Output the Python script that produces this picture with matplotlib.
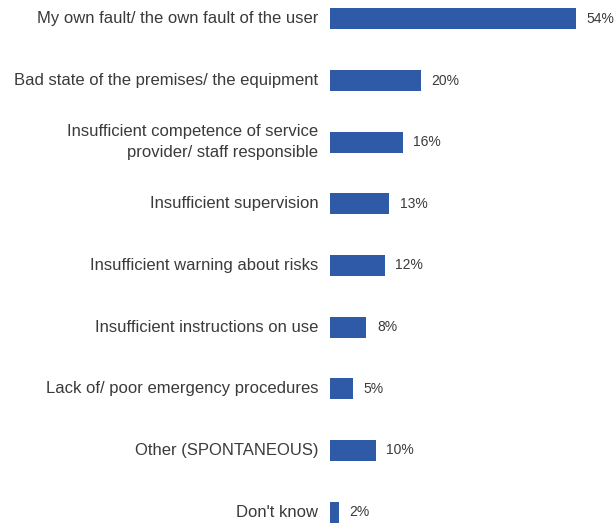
import matplotlib
matplotlib.use("Agg")
import matplotlib.pyplot as plt

categories = [
    "My own fault/ the own fault of the user",
    "Bad state of the premises/ the equipment",
    "Insufficient competence of service\nprovider/ staff responsible",
    "Insufficient supervision",
    "Insufficient warning about risks",
    "Insufficient instructions on use",
    "Lack of/ poor emergency procedures",
    "Other (SPONTANEOUS)",
    "Don't know",
]
values = [54, 20, 16, 13, 12, 8, 5, 10, 2]
value_labels = ["54%", "20%", "16%", "13%", "12%", "8%", "5%", "10%", "2%"]

W, H = 615, 523
fig = plt.figure(figsize=(W / 100, H / 100), dpi=100)
left = 330 / W
ax = fig.add_axes([left, 0, 1 - left, 1])

bar_color = "#2F5AA8"
ypos = list(range(len(categories)))
ax.barh(ypos, values, height=0.34, color=bar_color)
ax.set_xlim(0, 285 / 4.56)
ax.set_ylim(8 + 11 / 62.0, -19 / 62.0)

for y, v, lab in zip(ypos, values, value_labels):
    ax.text(v + 2.3, y, lab, va="center", ha="left", fontsize=10,
            family="Liberation Sans", color="#3a3a3a")

for y, cat in zip(ypos, categories):
    ax.text(-2.6, y, cat, va="center", ha="right", fontsize=12,
            family="Liberation Sans", color="#3a3a3a", linespacing=1.45,
            clip_on=False)

ax.axis("off")
fig.savefig("out.png", dpi=100, facecolor="white")
